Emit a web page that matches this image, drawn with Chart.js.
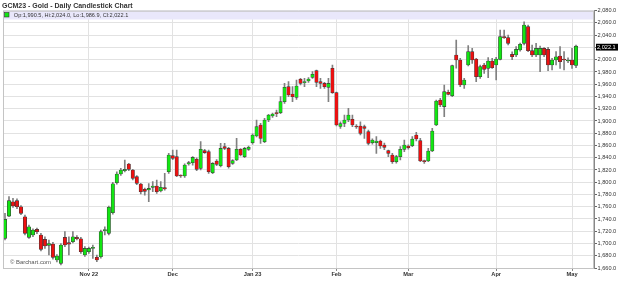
<!doctype html>
<html>
<head>
<meta charset="utf-8">
<title>GCM23 - Gold - Daily Candlestick Chart</title>
<script src="https://cdn.jsdelivr.net/npm/chart.js@4.4.0/dist/chart.umd.min.js"></script>
<style>
  html, body { margin: 0; padding: 0; background: #fff; }
  #wrap { position: relative; width: 624px; height: 281px; }
</style>
</head>
<body>
<div id="wrap"><canvas id="gold"></canvas></div>
<script>
// trading days shown on the chart, per month
var oct22 = [3,4,5,6,7,10,11,12,13,14,17,18,19,20,21,24,25,26,27,28,31];
var nov22 = [1,2,3,4,7,8,9,10,11,14,15,16,17,18,21,22,23,25,28,29,30];
var dec22 = [1,2,5,6,7,8,9,12,13,14,15,16,19,20,21,22,23,27,28,29];
var jan23 = [3,4,5,6,9,10,11,12,13,16,17,18,19,20,23,24,25,26,27,30,31];
var feb23 = [1,2,3,6,7,8,9,10,13,14,15,16,17,21,22,23,24,27];
var mar23 = [1,2,3,6,7,8,9,10,13,14,15,16,17,20,21,22,23,24,27,28,29,30];
var apr23 = [3,4,5,6,10,11,12,13,14,17,18,19,20,21,24,25,26,27,28];
var may23 = [1,2,3,4,5,8];

var monthLabels = ['Nov 22', 'Dec', 'Jan 23', 'Feb', 'Mar', 'Apr', 'May'];

var opens = [
  1708.4,1744.8,1768.2,1769.9,1760.0,1743.7,1710.0,1713.8,1723.0,1713.8,
  1706.7,1697.0,1699.1,1673.0,1667.6,1710.0,1701.3,1703.0,1710.0,1707.8,
  1681.2,1686.6,1692.0,1677.4,1678.5,1721.0,1716.5,1750.3,1799.3,1813.4,
  1818.9,1829.8,1820.0,1809.1,1797.1,1788.4,1787.3,1791.7,1793.8,1785.7,
  1791.1,1817.2,1843.4,1841.7,1810.7,1810.2,1829.8,1831.9,1837.4,1822.7,
  1851.5,1849.9,1815.6,1834.6,1827.0,1858.0,1855.3,1830.8,1836.3,1853.7,
  1841.7,1853.7,1864.6,1875.4,1893.4,1866.2,1901.6,1908.1,1912.5,1913.5,
  1931.5,1956.0,1944.0,1938.6,1968.0,1962.5,1965.2,1971.2,1982.1,1964.1,
  1961.4,1954.9,1985.9,1946.2,1891.0,1896.1,1901.6,1902.7,1891.8,1891.8,
  1890.7,1882.5,1864.6,1864.6,1867.3,1860.8,1851.5,1844.4,1833.6,1841.7,
  1853.7,1859.2,1859.7,1877.1,1867.9,1835.2,1834.7,1851.0,1893.4,1934.3,
  1923.4,1946.8,1941.3,2007.7,1999.5,1958.7,1991.4,2013.1,2001.2,1972.3,
  1991.4,1985.9,1997.9,1991.4,2000.6,2037.6,2036.0,2008.7,2007.7,2015.8,
  2026.7,2053.9,2014.7,2007.7,2007.7,2018.5,2016.9,1991.3,1999.5,2006.0,
  2000.6,1997.9,1999.5,1990.5
];
var highs = [
  1749.2,1776.4,1773.7,1773.0,1762.0,1746.5,1730.0,1724.0,1725.0,1716.5,
  1711.0,1705.7,1702.0,1682.0,1700.0,1719.3,1711.0,1719.3,1713.0,1710.0,
  1695.0,1694.0,1697.5,1681.0,1722.0,1727.4,1761.0,1800.0,1817.0,1822.7,
  1836.3,1830.9,1821.0,1811.0,1798.2,1790.5,1798.0,1801.0,1803.6,1800.9,
  1814.5,1847.2,1852.6,1852.6,1812.0,1830.0,1834.0,1841.7,1840.0,1866.2,
  1853.7,1852.6,1832.0,1837.0,1863.5,1863.5,1857.0,1837.0,1871.6,1855.0,
  1857.0,1859.0,1879.0,1901.6,1896.0,1904.3,1911.0,1913.0,1917.9,1939.7,
  1961.4,1964.1,1956.0,1966.9,1969.6,1969.6,1971.0,1980.5,1983.2,1969.6,
  1963.0,1969.6,1991.3,1947.0,1898.8,1909.7,1920.6,1909.7,1894.0,1898.8,
  1893.4,1885.2,1871.0,1874.4,1868.9,1864.0,1852.6,1847.2,1844.0,1858.0,
  1868.9,1861.0,1874.4,1881.5,1871.6,1836.3,1855.3,1888.0,1934.3,1937.0,
  1958.7,1950.6,1991.4,2032.2,2002.3,1969.6,2022.9,2018.6,2002.3,1991.4,
  1994.1,2003.4,2002.3,2004.0,2048.5,2048.5,2040.3,2013.0,2021.3,2027.0,
  2062.0,2056.6,2024.0,2026.7,2022.4,2020.0,2020.2,2002.2,2013.1,2021.3,
  2013.1,2003.0,2018.5,2024.0
];
var lows = [
  1705.7,1743.7,1759.0,1757.0,1747.0,1713.8,1708.4,1711.0,1716.0,1688.0,
  1692.0,1681.2,1674.6,1670.0,1664.9,1694.8,1681.2,1701.0,1706.0,1683.8,
  1679.0,1684.0,1675.7,1670.3,1676.0,1713.8,1714.0,1748.0,1797.0,1811.0,
  1817.0,1819.0,1803.6,1796.0,1780.8,1779.0,1768.3,1784.6,1781.9,1784.0,
  1787.0,1814.5,1837.0,1809.1,1808.0,1808.0,1828.0,1828.0,1819.0,1820.0,
  1847.0,1814.5,1814.0,1827.0,1825.0,1853.0,1823.0,1829.0,1835.0,1843.0,
  1840.0,1852.0,1862.0,1874.0,1863.5,1864.6,1899.0,1906.0,1907.0,1912.0,
  1928.8,1939.7,1931.5,1935.0,1958.7,1956.0,1963.0,1969.6,1956.0,1953.3,
  1953.0,1931.5,1945.0,1891.8,1888.0,1890.7,1898.8,1890.7,1888.0,1877.1,
  1871.6,1860.8,1862.0,1847.2,1855.3,1853.0,1841.7,1830.8,1831.0,1836.3,
  1849.9,1854.0,1858.0,1867.3,1833.6,1830.8,1833.6,1849.9,1892.4,1923.4,
  1907.0,1942.4,1939.7,1986.0,1956.0,1953.3,1990.0,1994.1,1964.2,1969.6,
  1977.8,1970.7,1985.9,1967.0,1999.5,2034.8,2024.0,2000.0,2005.0,2014.0,
  2024.0,2013.1,2005.0,2005.0,1980.4,2005.0,1982.1,1983.2,1991.3,1985.9,
  1983.2,1995.0,1985.9,1986.9
];
var closes = [
  1739.4,1769.9,1761.2,1760.0,1749.2,1716.5,1727.4,1722.0,1719.3,1690.4,
  1695.9,1700.0,1677.4,1679.5,1697.5,1697.5,1699.1,1711.0,1707.8,1686.6,
  1692.0,1692.0,1693.0,1673.0,1719.3,1722.0,1759.0,1797.5,1813.4,1820.0,
  1821.0,1821.0,1806.4,1798.2,1784.6,1785.1,1790.0,1793.8,1784.6,1791.7,
  1789.0,1844.4,1839.0,1810.2,1810.2,1828.1,1832.0,1840.6,1821.0,1853.7,
  1848.3,1817.2,1830.8,1829.2,1855.3,1855.3,1825.4,1835.2,1853.7,1844.4,
  1855.3,1857.0,1877.1,1890.7,1871.6,1901.6,1909.7,1911.4,1912.0,1931.5,
  1954.9,1942.4,1939.7,1957.0,1961.4,1963.3,1968.5,1976.1,1963.0,1961.4,
  1956.0,1961.4,1946.2,1893.4,1895.7,1901.6,1909.7,1893.4,1890.2,1879.8,
  1888.0,1863.5,1868.9,1867.3,1859.1,1857.0,1847.2,1833.6,1841.7,1853.7,
  1860.8,1856.4,1870.6,1870.6,1834.7,1833.6,1851.0,1883.7,1932.6,1926.1,
  1947.9,1943.5,1990.3,1999.5,1958.7,1966.9,2013.1,1999.5,1972.3,1988.7,
  1984.3,1997.9,1987.0,2001.2,2037.6,2036.0,2026.7,2005.0,2016.9,2025.1,
  2056.6,2014.7,2007.7,2018.5,2018.5,2007.7,1991.3,1999.5,2004.9,1996.8,
  1999.5,1999.5,1991.3,2022.1
];

var FONT = '"Liberation Sans", Arial, sans-serif';
var UP = '#12e612', DOWN = '#ee1010';

var dates = [];
function addMonth(prefix, days) {
  days.forEach(function (d) { dates.push(prefix + (d < 10 ? '0' + d : d)); });
}
addMonth('2022-10-', oct22); addMonth('2022-11-', nov22); addMonth('2022-12-', dec22);
addMonth('2023-01-', jan23); addMonth('2023-02-', feb23); addMonth('2023-03-', mar23);
addMonth('2023-04-', apr23); addMonth('2023-05-', may23);

// which category starts a new month -> its axis label
var monthStart = {};
var m = 0;
for (var i = 1; i < dates.length; i++) {
  if (dates[i].slice(0, 7) != dates[i - 1].slice(0, 7)) monthStart[i] = monthLabels[m++];
}

function fmt(v) {
  return v.toLocaleString('en-US', { minimumFractionDigits: 1, maximumFractionDigits: 1 });
}

var bodies = dates.map(function (d, i) { return i < opens.length ? [opens[i], closes[i]] : null; });
var wicks = dates.map(function (d, i) { return i < opens.length ? [lows[i], highs[i]] : null; });

function candleColor(ctx) {
  var i = ctx.dataIndex;
  return closes[i] >= opens[i] ? UP : DOWN;
}

var extras = {
  id: 'extras',
  beforeDatasetsDraw: function (chart) {
    var c = chart.ctx, a = chart.chartArea;
    c.save();
    c.fillStyle = '#e9e7fb';
    c.fillRect(a.left, a.top, a.right - a.left, 8.8);
    c.restore();
  },
  afterDraw: function (chart) {
    var c = chart.ctx, a = chart.chartArea, y = chart.scales.y;
    var n = opens.length - 1;
    c.save();
    // frame
    c.strokeStyle = '#c4c4c4';
    c.lineWidth = 1;
    c.strokeRect(a.left + 0.5, a.top + 0.5, a.right - a.left - 1, a.bottom - a.top);

    // title
    c.fillStyle = '#333';
    c.font = 'bold 7px ' + FONT;
    c.textBaseline = 'alphabetic';
    c.fillText('GCM23 - Gold - Daily Candlestick Chart', 2, 7.6);

    // OHLC line for the last bar
    c.fillStyle = UP;
    c.fillRect(4.5, 12.5, 4.5, 4.5);
    c.strokeStyle = '#333';
    c.lineWidth = 0.6;
    c.strokeRect(4.5, 12.5, 4.5, 4.5);
    c.fillStyle = '#333';
    c.font = '5.6px ' + FONT;
    c.fillText('Op:' + fmt(opens[n]) + ', Hi:' + fmt(highs[n]) + ', Lo:' + fmt(lows[n]) + ', Cl:' + fmt(closes[n]), 13.8, 17.2);

    // source
    c.fillStyle = '#555';
    c.font = '5.9px ' + FONT;
    c.fillText('\u00a9 Barchart.com', 10, 263.6);

    // last price tag on the axis
    var py = y.getPixelForValue(closes[n]) + 1;
    c.fillStyle = '#000';
    c.fillRect(a.right + 2, py - 3.4, 22, 6.8);
    c.fillStyle = '#fff';
    c.font = '5.6px ' + FONT;
    c.textBaseline = 'middle';
    c.fillText(fmt(closes[n]), a.right + 3, py);
    c.restore();
  }
};

new Chart(document.getElementById('gold'), {
  type: 'bar',
  data: {
    labels: dates,
    datasets: [{
      label: 'Body',
      data: bodies,
      backgroundColor: candleColor,
      borderColor: '#3a3a3a',
      borderWidth: 0.6,
      borderSkipped: false,
      barThickness: 3.4,
      minBarLength: 1,
      grouped: false,
      order: 0
    }, {
      label: 'Wick',
      data: wicks,
      backgroundColor: '#808080',
      barThickness: 1,
      grouped: false,
      order: 1
    }]
  },
  options: {
    responsive: true,
    maintainAspectRatio: false,
    animation: false,
    layout: { padding: { top: 10.7, left: 3, right: 0, bottom: 0 } },
    plugins: {
      legend: { display: false },
      title: { display: false },
      tooltip: { enabled: false }
    },
    scales: {
      x: {
        offset: true,
        grid: {
          offset: false,
          color: function (ctx) { return monthStart[ctx.index] ? '#e2e2e2' : 'rgba(0,0,0,0)'; },
          tickColor: function (ctx) { return monthStart[ctx.index] ? '#888' : 'rgba(0,0,0,0)'; },
          tickLength: 3
        },
        border: { color: '#c4c4c4' },
        ticks: {
          autoSkip: false,
          maxRotation: 0,
          minRotation: 0,
          padding: 0.5,
          color: '#333',
          font: { family: FONT, size: 5.7, weight: 'bold' },
          callback: function (v, i) { return monthStart[i] || ''; }
        },
        afterFit: function (s) { s.height = 13; }
      },
      y: {
        position: 'right',
        min: 1660,
        max: 2080,
        grid: { color: '#e2e2e2', tickColor: '#666', tickLength: 3 },
        border: { color: '#888' },
        ticks: {
          stepSize: 20,
          padding: 0.5,
          color: '#333',
          font: { family: FONT, size: 5.6 },
          callback: function (v) { return fmt(v); }
        },
        afterFit: function (s) { s.width = 30; }
      }
    }
  },
  plugins: [extras]
});
</script>
</body>
</html>
